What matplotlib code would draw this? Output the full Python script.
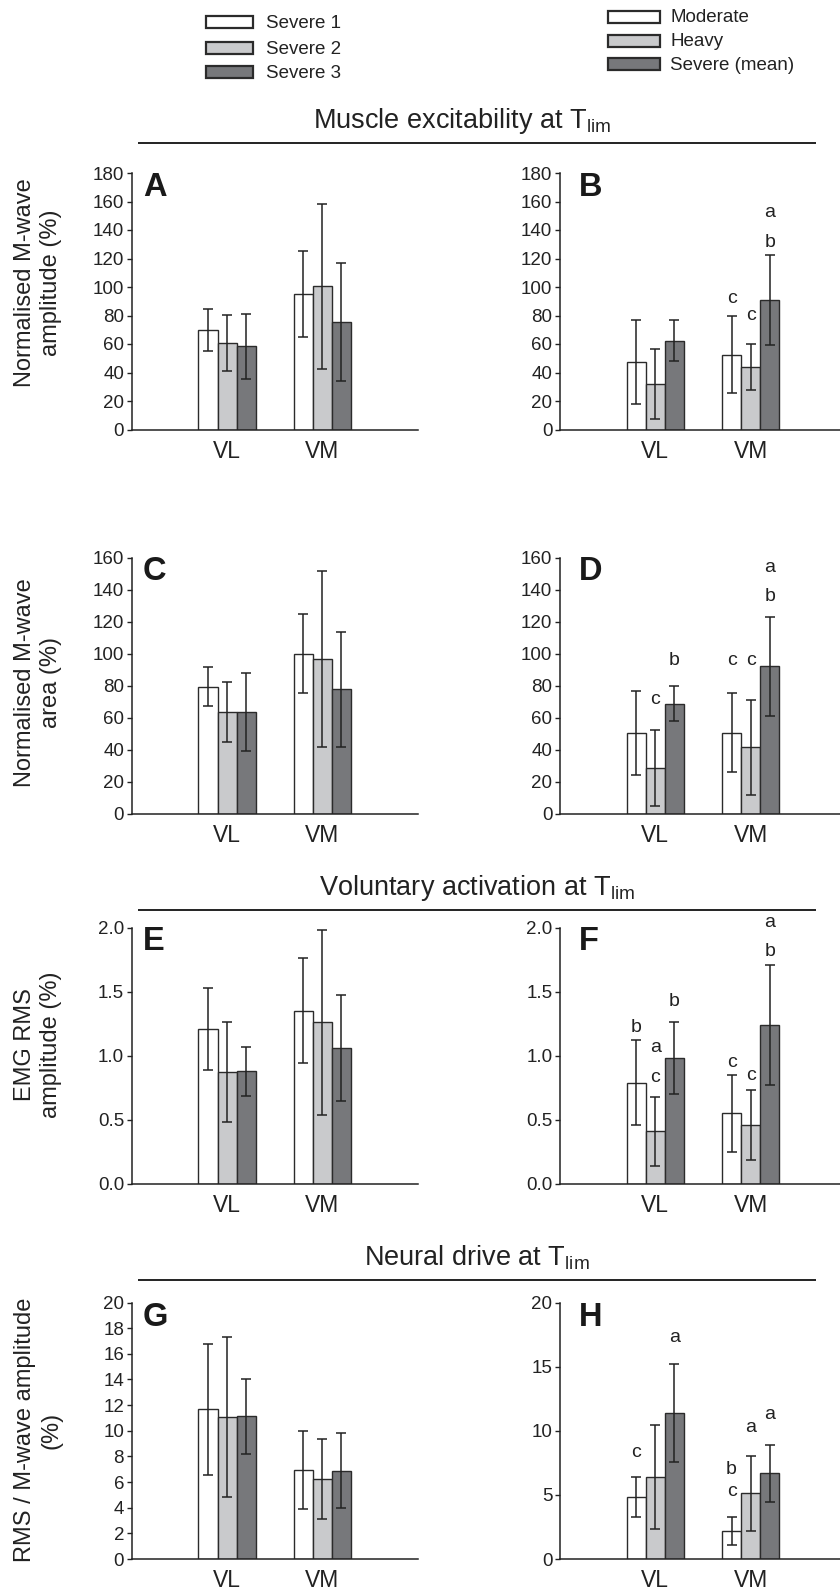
import matplotlib
matplotlib.use("Agg")
import matplotlib.pyplot as plt
from matplotlib.patches import Rectangle
from matplotlib.ticker import FormatStrFormatter, MultipleLocator
import numpy as np

plt.rcParams['font.family'] = ['Liberation Sans', 'DejaVu Sans']
plt.rcParams['mathtext.fontset'] = 'custom'
plt.rcParams['mathtext.rm'] = 'Liberation Sans'
plt.rcParams['mathtext.it'] = 'Liberation Sans:italic'
plt.rcParams['mathtext.bf'] = 'Liberation Sans:bold'

# ---------------- data ----------------
muscles = ['VL', 'VM']
severe_labels = ['Severe 1', 'Severe 2', 'Severe 3']
intensity_labels = ['Moderate', 'Heavy', 'Severe (mean)']

# each panel: rows = condition (3), columns = muscle (VL, VM)
A_mean = [[69.8, 95.1], [60.5, 100.5], [58.4, 75.7]]
A_sd = [[14.6, 30.5], [19.7, 57.9], [22.7, 41.4]]
B_mean = [[47.3, 52.5], [31.9, 43.8], [62.3, 90.7]]
B_sd = [[29.3, 27.0], [24.4, 16.3], [14.4, 31.6]]
C_mean = [[79.5, 100.0], [63.7, 96.5], [63.9, 77.8]]
C_sd = [[12.3, 24.7], [18.8, 55.0], [24.3, 35.9]]
D_mean = [[50.8, 50.8], [28.8, 41.5], [68.9, 92.1]]
D_sd = [[26.2, 24.9], [23.7, 29.6], [11.2, 31.0]]
E_mean = [[1.21, 1.35], [0.87, 1.26], [0.88, 1.06]]
E_sd = [[0.32, 0.41], [0.39, 0.72], [0.19, 0.41]]
F_mean = [[0.79, 0.55], [0.41, 0.46], [0.98, 1.24]]
F_sd = [[0.33, 0.30], [0.27, 0.27], [0.28, 0.47]]
G_mean = [[11.66, 6.96], [11.06, 6.23], [11.12, 6.88]]
G_sd = [[5.13, 3.04], [6.26, 3.10], [2.94, 2.94]]
H_mean = [[4.83, 2.21], [6.39, 5.12], [11.40, 6.68]]
H_sd = [[1.58, 1.08], [4.03, 2.94], [3.83, 2.20]]

# significance letters: (muscle index, condition index, y position, letter)
B_sig = [(1, 0, 92, 'c'), (1, 1, 79.7, 'c'), (1, 2, 131, 'b'), (1, 2, 152, 'a')]
D_sig = [(0, 1, 71.6, 'c'), (0, 2, 96, 'b'), (1, 0, 96, 'c'), (1, 1, 95.7, 'c'),
         (1, 2, 135.9, 'b'), (1, 2, 153.8, 'a')]
F_sig = [(0, 0, 1.218, 'b'), (0, 1, 1.065, 'a'), (0, 1, 0.831, 'c'), (0, 2, 1.421, 'b'),
         (1, 0, 0.948, 'c'), (1, 1, 0.844, 'c'), (1, 2, 1.81, 'b'), (1, 2, 2.039, 'a')]
H_sig = [(0, 0, 8.29, 'c'), (0, 2, 17.27, 'a'), (1, 0, 6.94, 'b'), (1, 0, 5.25, 'c'),
         (1, 1, 10.26, 'a'), (1, 2, 11.27, 'a')]

ylabels = ['Normalised M-wave\namplitude (%)', 'Normalised M-wave\narea (%)',
           'EMG RMS\namplitude (%)', 'RMS / M-wave amplitude\n(%)']
section_titles = [r'Muscle excitability at T$_{\mathregular{lim}}$',
                  r'Voluntary activation at T$_{\mathregular{lim}}$',
                  r'Neural drive at T$_{\mathregular{lim}}$']

# ---------------- style ----------------
W, H = 840, 1590
DPI = 100
fills = ['#ffffff', '#c9cacc', '#77787b']
edge = '#2b2b2b'
ink = '#222222'
bar_w = 0.2

fig = plt.figure(figsize=(W / DPI, H / DPI), dpi=DPI)

# overlay in pixel coordinates for titles, rules, legends, labels
ov = fig.add_axes([0, 0, 1, 1])
ov.set_xlim(0, W)
ov.set_ylim(H, 0)
ov.axis('off')


def px_axes(x0, top, w, h):
    return fig.add_axes([x0 / W, 1 - (top + h) / H, w / W, h / H])


def draw_panel(ax, means, sds, ylim, step, fmt=None, sig=None):
    x = np.arange(1, len(muscles) + 1)
    for i in range(3):
        ax.bar(x + (i - 1) * bar_w, means[i], width=bar_w, yerr=sds[i],
               color=fills[i], edgecolor=edge, linewidth=1.0, zorder=2,
               error_kw=dict(ecolor=ink, elinewidth=1.1, capsize=3.6, capthick=1.1, zorder=3))
    ax.set_xlim(0, 3)
    ax.set_ylim(*ylim)
    ax.yaxis.set_major_locator(MultipleLocator(step))
    if fmt:
        ax.yaxis.set_major_formatter(FormatStrFormatter(fmt))
    ax.set_xticks(x)
    ax.set_xticklabels(muscles, fontsize=16.5, color=ink)
    for s in ['top', 'right']:
        ax.spines[s].set_visible(False)
    for s in ['left', 'bottom']:
        ax.spines[s].set_color(ink)
        ax.spines[s].set_linewidth(1.1)
    ax.tick_params(axis='x', length=0, pad=7.5)
    ax.tick_params(axis='y', direction='out', length=3.5, width=1.0, color=ink,
                   labelsize=13.5, labelcolor=ink, pad=2)
    ax.set_facecolor('none')
    if sig:
        for m, c, y, letter in sig:
            ax.text(x[m] + (c - 1) * bar_w, y, letter, ha='center', va='center',
                    fontsize=14, color=ink, clip_on=False)


left_x, right_x, aw, ah = 131.7, 560.0, 286.0, 256.5
tops = [173.0, 557.5, 927.5, 1302.5]

panels = [
    (A_mean, A_sd, (0, 180), 20, None, None),
    (B_mean, B_sd, (0, 180), 20, None, B_sig),
    (C_mean, C_sd, (0, 160), 20, None, None),
    (D_mean, D_sd, (0, 160), 20, None, D_sig),
    (E_mean, E_sd, (0, 2.0), 0.5, '%.1f', None),
    (F_mean, F_sd, (0, 2.0), 0.5, '%.1f', F_sig),
    (G_mean, G_sd, (0, 20), 2, None, None),
    (H_mean, H_sd, (0, 20), 5, None, H_sig),
]
letters = 'ABCDEFGH'

for k, (m, s, yl, st, fmt, sig) in enumerate(panels):
    row, col = divmod(k, 2)
    x0 = left_x if col == 0 else right_x
    ax = px_axes(x0, tops[row], aw, ah)
    draw_panel(ax, m, s, yl, st, fmt, sig)
    lx = 143 if col == 0 else 579
    ov.text(lx, tops[row] - 1, letters[k], ha='left', va='top', fontsize=23.5,
            fontweight='bold', color='#1a1a1a')

# row labels
label_y = [283, 683, 1045, 1430]
for lab, y in zip(ylabels, label_y):
    ov.text(38, y, lab, rotation=90, ha='center', va='center', fontsize=17,
            color=ink, linespacing=1.25, multialignment='center')

# section titles with rules
title_x = [462, 477, 477]
title_base = [128, 895, 1265]
rule_y = [143, 910, 1280]
for t, xc, yb, yr in zip(section_titles, title_x, title_base, rule_y):
    ov.text(xc, yb, t, ha='center', va='baseline', fontsize=19.5, color=ink)
    ov.plot([138, 816], [yr, yr], color=ink, lw=1.4, solid_capstyle='butt')


# legends
def legend(x_box, box_w, ys, labels, x_text):
    for y, lab, fc in zip(ys, labels, fills):
        ov.add_patch(Rectangle((x_box, y - 6), box_w, 12, facecolor=fc,
                               edgecolor=edge, linewidth=1.6))
        ov.text(x_text, y + 1, lab, ha='left', va='center', fontsize=13.5, color=ink)


legend(206, 47, [22, 48, 72], severe_labels, 266)
legend(608, 52, [17, 41, 64], intensity_labels, 670)

fig.savefig('out.png', dpi=DPI, facecolor='white')
